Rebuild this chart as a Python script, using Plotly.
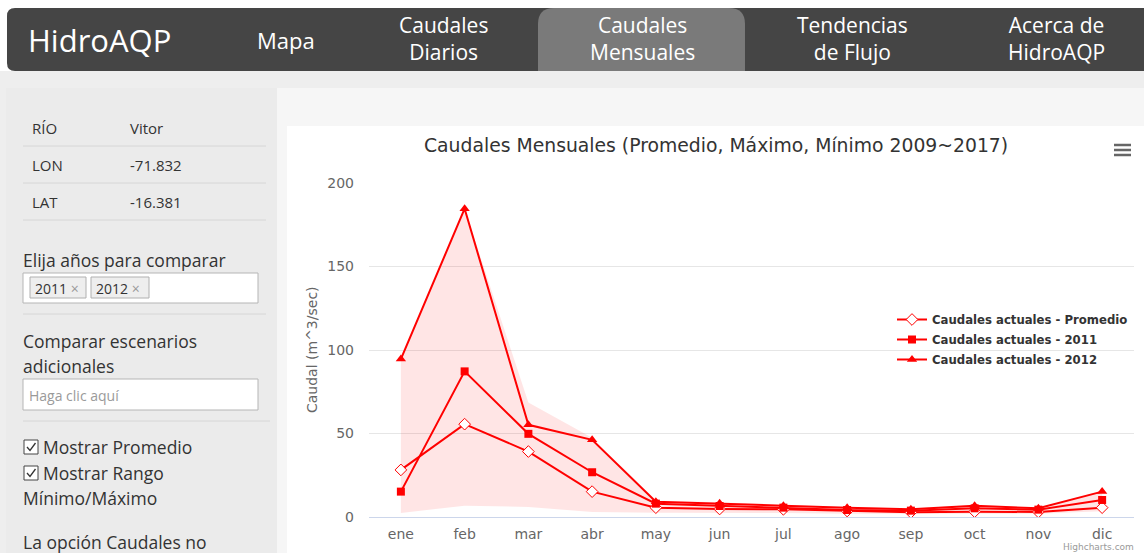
import plotly.graph_objects as go

# ---------------- data ----------------
months = ["ene", "feb", "mar", "abr", "may", "jun", "jul", "ago", "sep", "oct", "nov", "dic"]
promedio = [28.2, 55.6, 39.2, 15.2, 5.6, 4.8, 4.6, 3.6, 2.8, 3.2, 3.0, 5.6]
caudal_2011 = [15.2, 87.2, 49.8, 26.8, 8.0, 6.6, 5.6, 4.2, 3.8, 5.2, 4.4, 10.2]
caudal_2012 = [94.6, 184.6, 55.2, 46.2, 9.2, 8.2, 6.8, 5.6, 4.6, 6.8, 5.2, 15.2]
rango_max = [94.6, 184.6, 68.5, 47.5, 9.8, 8.8, 7.2, 6.0, 5.0, 7.2, 5.6, 15.5]
rango_min = [2.4, 6.8, 6.0, 3.0, 2.5, 2.5, 2.4, 2.0, 1.8, 2.0, 2.0, 3.5]
y_ticks = [0, 50, 100, 150, 200]

series_names = ["Caudales actuales - Promedio", "Caudales actuales - 2011", "Caudales actuales - 2012"]
chart_title = "Caudales Mensuales (Promedio, Máximo, Mínimo 2009~2017)"
y_title = "Caudal (m^3/sec)"

# ---------------- geometry helpers ----------------
W, H = 1144, 553
L, R, T, B = 369, 1134, 183, 517


def px(x):
    return (x - L) / (R - L)


def py(y):
    return (B - y) / (B - T)


RED = "#ff0000"
NAV_FONT = "Open Sans"
SIDE_FONT = "Open Sans"
HC_FONT = "DejaVu Sans"

fig = go.Figure()

# range band
fig.add_trace(go.Scatter(x=months, y=rango_min, mode="lines", line=dict(width=0, color=RED),
                         showlegend=False, hoverinfo="skip"))
fig.add_trace(go.Scatter(x=months, y=rango_max, mode="lines", line=dict(width=0, color=RED),
                         fill="tonexty", fillcolor="rgba(255,0,0,0.1)", showlegend=False, hoverinfo="skip"))

fig.add_trace(go.Scatter(x=months, y=promedio, name=series_names[0], mode="lines+markers",
                         legendgroup="g1", line=dict(color=RED, width=2),
                         marker=dict(symbol="diamond", size=9, color="white", line=dict(color=RED, width=1))))
fig.add_trace(go.Scatter(x=months, y=caudal_2011, name=series_names[1], mode="lines+markers",
                         legendgroup="g2", line=dict(color=RED, width=2),
                         marker=dict(symbol="square", size=8, color=RED)))
fig.add_trace(go.Scatter(x=months, y=caudal_2012, name=series_names[2], mode="lines+markers",
                         legendgroup="g3", line=dict(color=RED, width=2),
                         marker=dict(symbol="triangle-up", size=9, color=RED)))

shapes = []
annotations = []


def rect(x0, y0, x1, y1, fill, line_color=None, lw=1, layer="below"):
    shapes.append(dict(type="rect", xref="paper", yref="paper",
                       x0=px(x0), x1=px(x1), y0=py(y1), y1=py(y0),
                       fillcolor=fill, line=dict(color=line_color or fill, width=lw if line_color else 0),
                       layer=layer))


def hline(x0, x1, y, color, lw=1, layer="below"):
    shapes.append(dict(type="line", xref="paper", yref="paper",
                       x0=px(x0), x1=px(x1), y0=py(y), y1=py(y),
                       line=dict(color=color, width=lw), layer=layer))


def rounded_path(x0, y0, x1, y1, r, tl=True, tr=True, br=True, bl=True):
    def P(x, y):
        return f"{px(x):.6f},{py(y):.6f}"
    d = "M " + P(x0 + (r if tl else 0), y0)
    d += " L " + P(x1 - (r if tr else 0), y0)
    if tr:
        d += " Q " + P(x1, y0) + " " + P(x1, y0 + r)
    d += " L " + P(x1, y1 - (r if br else 0))
    if br:
        d += " Q " + P(x1, y1) + " " + P(x1 - r, y1)
    d += " L " + P(x0 + (r if bl else 0), y1)
    if bl:
        d += " Q " + P(x0, y1) + " " + P(x0, y1 - r)
    d += " L " + P(x0, y0 + (r if tl else 0))
    if tl:
        d += " Q " + P(x0, y0) + " " + P(x0 + r, y0)
    d += " Z"
    return d


def text(x, y, s, size, color, family, xanchor="left", bold=False, angle=0):
    annotations.append(dict(x=px(x), y=py(y), xref="paper", yref="paper", text=s, showarrow=False,
                            xanchor=xanchor, yanchor="middle", textangle=angle, borderpad=0,
                            font=dict(size=size, color=color, family=family,
                                      weight="bold" if bold else "normal")))


# page backgrounds
rect(0, 71, W, H, "#eeeeee")
rect(6, 88, 277, H, "#ebebeb")
rect(277, 88, W, H, "#f6f6f6")
rect(287, 126, W, H, "#ffffff")

# nav bar
shapes.append(dict(type="path", xref="paper", yref="paper",
                   path=rounded_path(7, 8, W, 71, 8, tr=False, br=False),
                   fillcolor="#454545", line=dict(width=0), layer="below"))
shapes.append(dict(type="path", xref="paper", yref="paper",
                   path=rounded_path(538, 8, 745, 71, 16, br=False, bl=False),
                   fillcolor="#7a7a7a", line=dict(width=0), layer="below"))
text(27, 40, "HidroAQP", 31, "white", NAV_FONT)
text(286, 40, "Mapa", 22, "white", NAV_FONT, xanchor="center")
text(443, 39, "Caudales<br>Diarios", 21, "white", NAV_FONT, xanchor="center")
text(642, 39, "Caudales<br>Mensuales", 21, "white", NAV_FONT, xanchor="center")
text(852, 39, "Tendencias<br>de Flujo", 21, "white", NAV_FONT, xanchor="center")
text(1056, 39, "Acerca de<br>HidroAQP", 21, "white", NAV_FONT, xanchor="center")

# sidebar table
SC = "#333333"
text(31, 128, "RÍO", 15, SC, SIDE_FONT)
text(129, 128, "Vitor", 15, SC, SIDE_FONT)
text(31, 165, "LON", 15, SC, SIDE_FONT)
text(129, 165, "-71.832", 15, SC, SIDE_FONT)
text(31, 202, "LAT", 15, SC, SIDE_FONT)
text(129, 202, "-16.381", 15, SC, SIDE_FONT)
for yy in (146, 183, 220):
    hline(23, 266, yy, "#d6d6d6")

text(22, 260, "Elija años para comparar", 17.5, SC, SIDE_FONT)
rect(23, 273, 258, 303, "#ffffff", "#b5b5b5")
rect(30, 277, 86, 298, "#eeeeee", "#b0b0b0")
rect(91, 277, 149, 298, "#eeeeee", "#b0b0b0")
text(34, 288, "2011 <span style='color:#999'>×</span>", 14, SC, SIDE_FONT)
text(95, 288, "2012 <span style='color:#999'>×</span>", 14, SC, SIDE_FONT)
hline(23, 266, 314, "#d6d6d6")

text(22, 341, "Comparar escenarios", 17.5, SC, SIDE_FONT)
text(22, 366, "adicionales", 17.5, SC, SIDE_FONT)
rect(23, 379, 258, 410, "#ffffff", "#b5b5b5")
text(28, 395, "Haga clic aquí", 14, "#9a9a9a", SIDE_FONT)
hline(23, 270, 421, "#d6d6d6")

for cy, label in ((447, "Mostrar Promedio"), (473, "Mostrar Rango")):
    rect(24, cy - 7, 38, cy + 7, "#ffffff", "#444444")
    shapes.append(dict(type="path", xref="paper", yref="paper",
                       path=f"M {px(27)},{py(cy)} L {px(30)},{py(cy + 3.5)} L {px(35.5)},{py(cy - 4)}",
                       line=dict(color="#333", width=1.3), layer="above"))
    text(42, cy, label, 17.5, SC, SIDE_FONT)
text(22, 498, "Mínimo/Máximo", 17.5, SC, SIDE_FONT)
text(22, 542, "La opción Caudales no", 17.5, SC, SIDE_FONT)

# chart decorations
text(716, 145, chart_title, 18.8, "#333333", HC_FONT, xanchor="center")
text(312, 350, y_title, 14, "#666666", HC_FONT, xanchor="center", angle=-90)
text(1135, 547, "Highcharts.com", 9, "#999999", HC_FONT, xanchor="right")
for yy in (145, 150, 155):
    shapes.append(dict(type="line", xref="paper", yref="paper", x0=px(1114), x1=px(1131),
                       y0=py(yy), y1=py(yy), line=dict(color="#666666", width=2.5), layer="above"))

fig.update_layout(
    width=W, height=H, autosize=False,
    margin=dict(l=L, r=W - R, t=T, b=H - B, pad=0, autoexpand=False),
    paper_bgcolor="#ffffff", plot_bgcolor="rgba(0,0,0,0)",
    shapes=shapes, annotations=annotations,
    showlegend=True,
    legend=dict(x=px(892), y=py(305), xanchor="left", yanchor="top", bgcolor="rgba(0,0,0,0)",
                font=dict(family=HC_FONT, size=11.7, color="#333333", weight="bold"),
                tracegroupgap=1, itemwidth=30, traceorder="grouped"),
    xaxis=dict(type="category", range=[-0.5, 11.5], showgrid=False, zeroline=False,
               showline=True, linecolor="#ccd6eb", linewidth=1, ticks="",
               tickfont=dict(family=HC_FONT, size=14, color="#666666"), ticklabelstandoff=4),
    yaxis=dict(range=[0, 200], tickvals=y_ticks, showgrid=True, gridcolor="#e6e6e6", zeroline=False,
               showline=False, ticks="",
               tickfont=dict(family=HC_FONT, size=14, color="#666666"), ticklabelstandoff=14),
)

fig.write_html("out.html", config={"displayModeBar": False, "responsive": False},
               post_script="document.body.style.margin='0';document.body.style.padding='0';"
                           "document.body.style.overflow='hidden';"
                           "document.documentElement.style.overflow='hidden';")
